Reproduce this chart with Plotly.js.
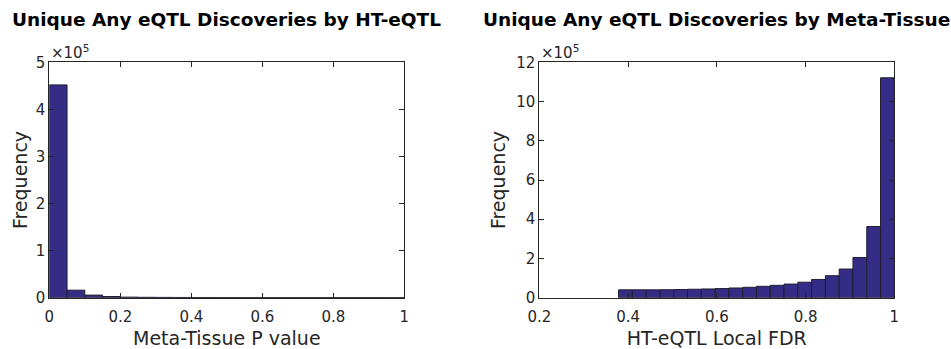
<!DOCTYPE html>
<html>
<head>
<meta charset="utf-8">
<script src="https://cdn.plot.ly/plotly-3.0.1.min.js"></script>
<style>html,body{margin:0;padding:0;background:#fff;}#chart{width:951px;height:349px;}</style>
</head>
<body>
<div id="chart"></div>
<script>
// Left panel: Meta-Tissue P value histogram of unique HT-eQTL discoveries
const leftBinStart = 0;
const leftBinWidth = 0.05;
const leftCounts = [452000, 16000, 5500, 2500, 1200, 800, 600, 500, 420, 380, 340, 310, 290, 270, 250, 240, 230, 220, 210, 200];

// Right panel: HT-eQTL Local FDR histogram of unique Meta-Tissue discoveries
const rightBinStart = 0.3787;
const rightBinWidth = 0.03107;
const rightCounts = [40000, 40000, 40000, 40500, 41500, 43000, 44500, 46500, 49500, 53000, 58000, 63000, 69500, 79000, 93000, 112000, 146000, 205000, 363000, 1121000];

const leftYTicks = [0, 1, 2, 3, 4, 5];
const rightYTicks = [0, 2, 4, 6, 8, 10, 12];
const leftXTicks = [0, 0.2, 0.4, 0.6, 0.8, 1];
const rightXTicks = [0.2, 0.4, 0.6, 0.8, 1];
const scale = 1e5;

const titles = ["Unique Any eQTL Discoveries by HT-eQTL", "Unique Any eQTL Discoveries by Meta-Tissue"];
const xTitles = ["Meta-Tissue P value", "HT-eQTL Local FDR"];

const edges = (start, w, n) => Array.from({length: n}, (_, i) => start + i * w);

const barColor = '#352c86';
const FONT = 'DejaVu Sans, Liberation Sans, Arial, sans-serif';

const traces = [
  {
    type: 'bar', x: edges(leftBinStart, leftBinWidth, leftCounts.length), y: leftCounts,
    width: leftBinWidth, offset: 0, xaxis: 'x', yaxis: 'y',
    marker: {color: barColor, line: {color: '#1f1f2f', width: 1}},
    hoverinfo: 'x+y', showlegend: false
  },
  {
    type: 'bar', x: edges(rightBinStart, rightBinWidth, rightCounts.length), y: rightCounts,
    width: rightBinWidth, offset: 0, xaxis: 'x2', yaxis: 'y2',
    marker: {color: barColor, line: {color: '#1f1f2f', width: 1}},
    hoverinfo: 'x+y', showlegend: false
  }
];

const axisCommon = {
  showline: true, linecolor: '#262626', linewidth: 1, mirror: 'ticks',
  ticks: 'inside', ticklen: 5, tickcolor: '#262626', tickwidth: 1,
  showgrid: false, zeroline: false,
  tickfont: {family: FONT, size: 15, color: '#262626'}
};

const xL = 49.3/951, xR = 404.3/951, x2L = 539.3/951, x2R = 894.3/951;
const yB = (349-297.7)/349, yT = (349-62.3)/349;
const titleFont = {family: FONT, size: 19, color: '#262626'};

const layout = {
  width: 951, height: 349,
  margin: {l: 0, r: 0, t: 0, b: 0},
  paper_bgcolor: '#fff', plot_bgcolor: '#fff',
  bargap: 0,
  font: {family: FONT, color: '#262626'},
  xaxis: Object.assign({}, axisCommon, {
    domain: [xL, xR], range: [0, 1], tickvals: leftXTicks, ticktext: leftXTicks.map(String),
    ticklabelstandoff: 5,
    title: {text: xTitles[0], font: titleFont, standoff: 9}
  }),
  yaxis: Object.assign({}, axisCommon, {
    domain: [yB, yT], range: [0, 5 * scale], tickvals: leftYTicks.map(v => v * scale), ticktext: leftYTicks.map(String),
    ticklabelstandoff: 0,
    title: {text: 'Frequency', font: titleFont, standoff: 3}
  }),
  xaxis2: Object.assign({}, axisCommon, {
    domain: [x2L, x2R], range: [0.2, 1], anchor: 'y2', tickvals: rightXTicks, ticktext: rightXTicks.map(String),
    ticklabelstandoff: 5,
    title: {text: xTitles[1], font: titleFont, standoff: 9}
  }),
  yaxis2: Object.assign({}, axisCommon, {
    domain: [yB, yT], range: [0, 12 * scale], anchor: 'x2', tickvals: rightYTicks.map(v => v * scale), ticktext: rightYTicks.map(String),
    ticklabelstandoff: 0,
    title: {text: 'Frequency', font: titleFont, standoff: 5}
  }),
  annotations: [
    {text: '<b>' + titles[0] + '</b>', xref: 'paper', yref: 'paper', x: (xL + xR) / 2, y: 1 - 19/349,
     xanchor: 'center', yanchor: 'middle', showarrow: false, font: {family: FONT, size: 18.5, color: '#000'}},
    {text: '<b>' + titles[1] + '</b>', xref: 'paper', yref: 'paper', x: (x2L + x2R) / 2, y: 1 - 19/349,
     xanchor: 'center', yanchor: 'middle', showarrow: false, font: {family: FONT, size: 18.5, color: '#000'}},
    {text: '×10<sup>5</sup>', xref: 'paper', yref: 'paper', x: xL, y: yT, xanchor: 'left', yanchor: 'bottom',
     yshift: -2, showarrow: false, font: {family: FONT, size: 15, color: '#262626'}},
    {text: '×10<sup>5</sup>', xref: 'paper', yref: 'paper', x: x2L, y: yT, xanchor: 'left', yanchor: 'bottom',
     yshift: -2, showarrow: false, font: {family: FONT, size: 15, color: '#262626'}}
  ]
};

Plotly.newPlot('chart', traces, layout, {displayModeBar: false, staticPlot: true});
</script>
</body>
</html>
